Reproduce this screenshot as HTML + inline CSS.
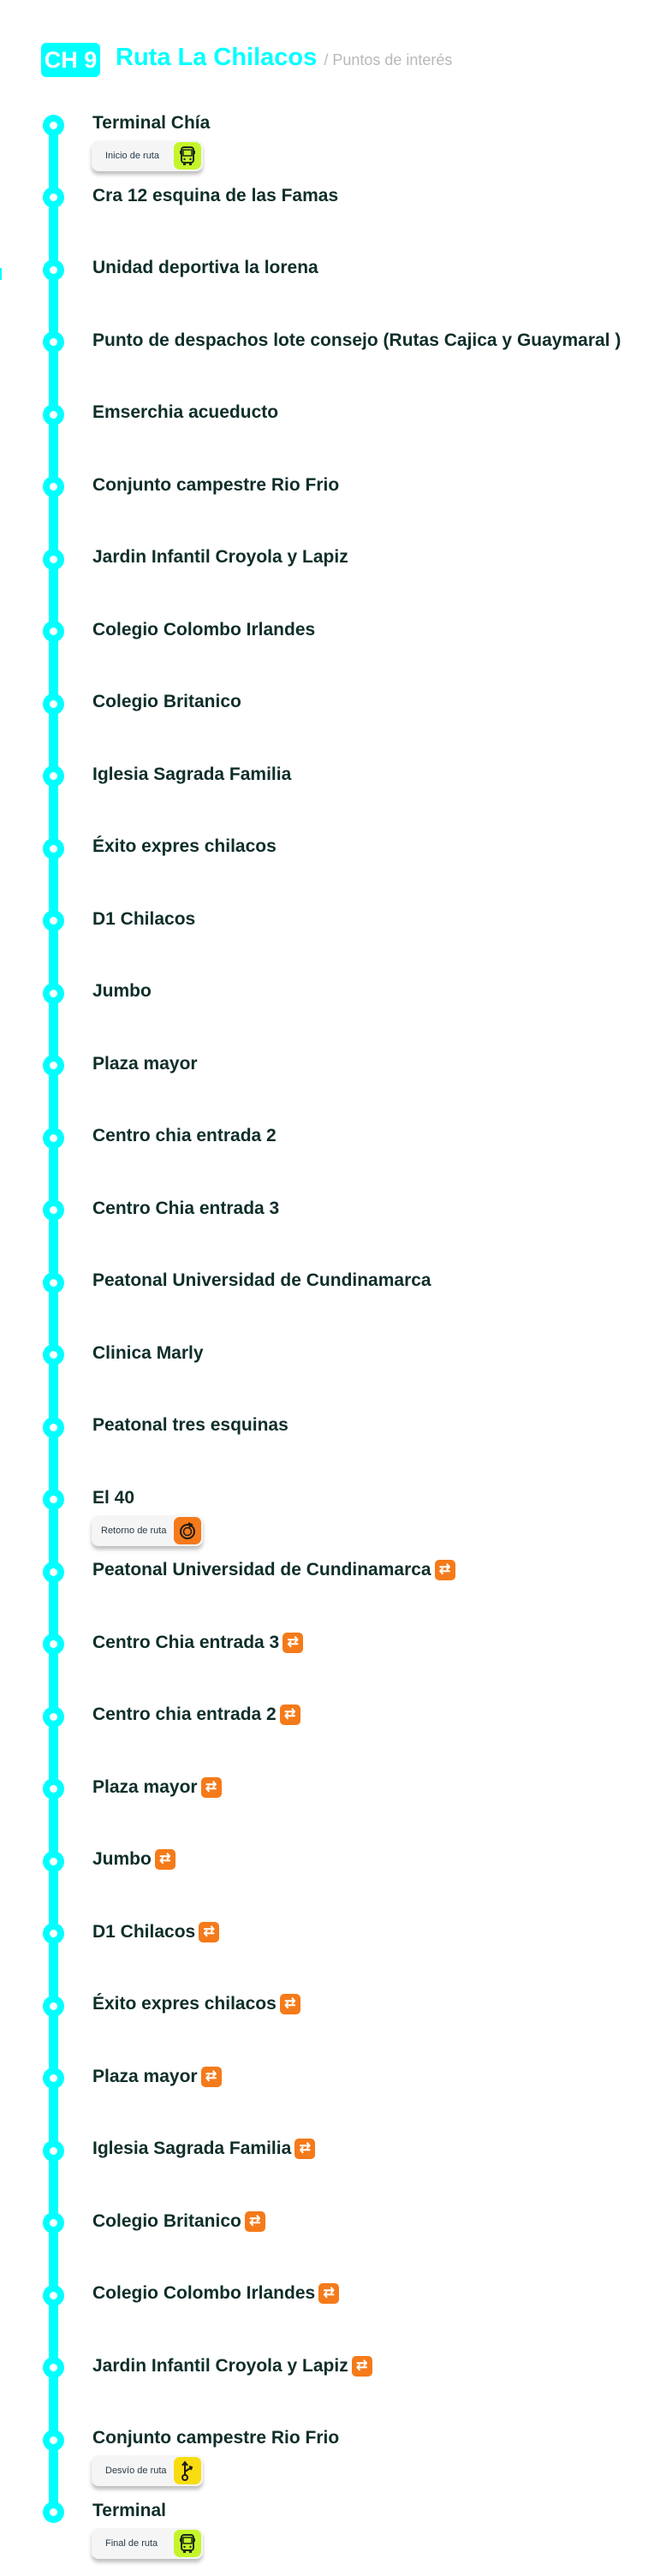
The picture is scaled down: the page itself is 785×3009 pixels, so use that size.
<!DOCTYPE html>
<html><head><meta charset="utf-8"><style>
*{margin:0;padding:0;box-sizing:border-box}
body{width:785px;height:3009px;background:#fff;position:relative;overflow:hidden;font-family:"Liberation Sans",sans-serif}
.badge{position:absolute;left:48px;top:50px;width:69px;height:40px;background:#00ffff;border-radius:6px;color:#fff;font-weight:bold;font-size:27px;line-height:40px;text-align:center}
.title{position:absolute;left:135px;top:47px;font-size:29px;font-weight:bold;color:#00ffff;line-height:40px;white-space:nowrap}
.title span{font-size:18px;font-weight:normal;color:#b8b8b8}
.line{position:absolute;left:57px;width:11px;background:#00ffff}
.dot{position:absolute;left:50px;width:25px;height:25px;border-radius:50%;background:#00ffff}
.dot::after{content:"";position:absolute;left:8px;top:8px;width:9px;height:9px;border-radius:50%;background:#fff}
.lbl{position:absolute;left:108px;height:26px;line-height:26px;font-size:21px;font-weight:bold;color:#0f2e2a;white-space:nowrap;display:flex;align-items:center}
.sw{display:inline-block;width:24px;height:24px;background:#f57a1a;border-radius:5px;margin-left:4px;color:#fff;font-size:16px;line-height:24px;text-align:center;font-weight:bold}
.pill{position:absolute;left:107px;width:130px;height:36px;background:#f5f5f5;border-radius:8px;box-shadow:0 4px 4px rgba(0,0,0,0.25);font-size:11px;color:#2a3b48;line-height:36px;padding-left:16px}
.ic{position:absolute;right:2px;top:2px;width:32px;height:32px;border-radius:7px;display:flex;align-items:center;justify-content:center}
</style></head><body>
<div class="badge">CH 9</div>
<div class="title">Ruta La Chilacos <span>/ Puntos de interés</span></div>
<div style="position:absolute;left:0;top:313px;width:2px;height:14px;background:#00ffff"></div>
<div class="line" style="top:140px;height:2801px"></div>
<div id="c"></div>
<script>
var names=["Terminal Chía","Cra 12 esquina de las Famas","Unidad deportiva la lorena","Punto de despachos lote consejo (Rutas Cajica y Guaymaral )","Emserchia acueducto","Conjunto campestre Rio Frio","Jardin Infantil Croyola y Lapiz","Colegio Colombo Irlandes","Colegio Britanico","Iglesia Sagrada Familia","Éxito expres chilacos","D1 Chilacos","Jumbo","Plaza mayor","Centro chia entrada 2","Centro Chia entrada 3","Peatonal Universidad de Cundinamarca","Clinica Marly","Peatonal tres esquinas","El 40","Peatonal Universidad de Cundinamarca","Centro Chia entrada 3","Centro chia entrada 2","Plaza mayor","Jumbo","D1 Chilacos","Éxito expres chilacos","Plaza mayor","Iglesia Sagrada Familia","Colegio Britanico","Colegio Colombo Irlandes","Jardin Infantil Croyola y Lapiz","Conjunto campestre Rio Frio","Terminal"];
var bus='<svg width="20" height="24" viewBox="0 0 20 24"><rect x="3" y="2" width="14" height="18" rx="3" fill="none" stroke="#1d2a1a" stroke-width="2"/><rect x="5" y="5" width="10" height="7" fill="none" stroke="#1d2a1a" stroke-width="1.5"/><rect x="5" y="20" width="3" height="3" fill="#1d2a1a"/><rect x="12" y="20" width="3" height="3" fill="#1d2a1a"/><rect x="1" y="6" width="2" height="4" fill="#1d2a1a"/><rect x="17" y="6" width="2" height="4" fill="#1d2a1a"/><circle cx="6.5" cy="16" r="1.2" fill="#1d2a1a"/><circle cx="13.5" cy="16" r="1.2" fill="#1d2a1a"/></svg>';
var ret='<svg width="22" height="22" viewBox="0 0 22 22"><circle cx="11" cy="12" r="8" fill="none" stroke="#1d1d1d" stroke-width="2"/><circle cx="11" cy="12" r="4.5" fill="none" stroke="#1d1d1d" stroke-width="1.5"/><path d="M12 2l4 2-3 3" fill="none" stroke="#1d1d1d" stroke-width="2"/></svg>';
var dev='<svg width="20" height="26" viewBox="0 0 20 26"><circle cx="7" cy="21" r="3" fill="none" stroke="#1d1d1d" stroke-width="2"/><path d="M7 18V4M4 7l3-4 3 4M7 14l8-5M12 8l3 1-1 3" fill="none" stroke="#1d1d1d" stroke-width="2"/></svg>';
var h='';
for(var i=0;i<names.length;i++){
 var y=146+84.5*i;
 h+='<div class="dot" style="top:'+(y-12.5)+'px"></div>';
 var sw=(i>=20&&i<=31)?'<span class="sw">⇄</span>':'';
 h+='<div class="lbl" style="top:'+(y-15)+'px">'+names[i]+sw+'</div>';
 var p=null;
 if(i==0)p=['Inicio de ruta','#c4f52a',bus];
 if(i==19)p=['Retorno de ruta','#f57a1a',ret];
 if(i==32)p=['Desvío de ruta','#f7dd0f',dev];
 if(i==33)p=['Final de ruta','#c4f52a',bus];
 if(p)h+='<div class="pill" style="top:'+(y+18)+'px;'+(i==19?'padding-left:11px':'')+'">'+p[0]+'<div class="ic" style="background:'+p[1]+'">'+p[2]+'</div></div>';
}
document.getElementById('c').innerHTML=h;
</script>
</body></html>
